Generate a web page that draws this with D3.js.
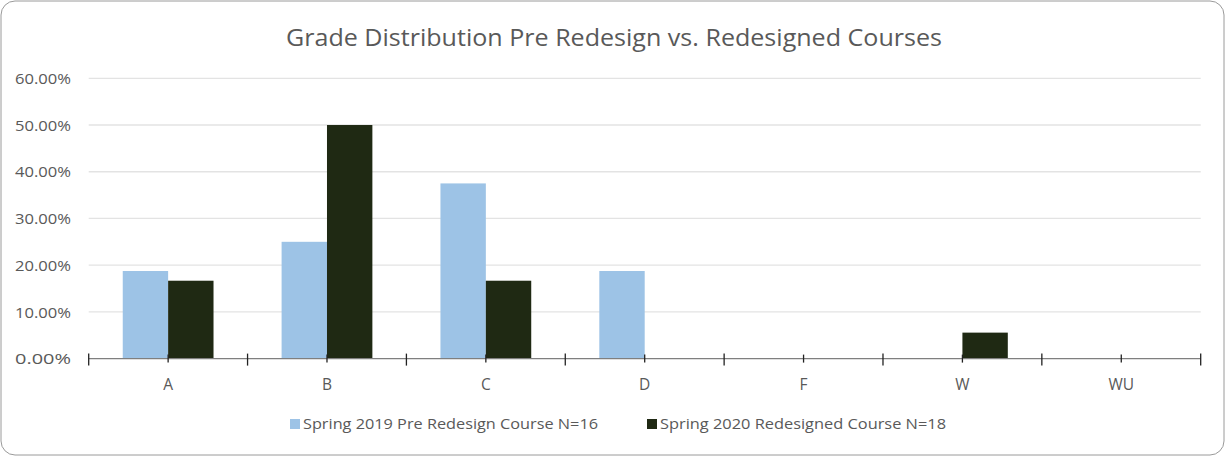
<!DOCTYPE html>
<html>
<head>
<meta charset="utf-8">
<script src="https://cdn.jsdelivr.net/npm/d3@7"></script>
<style>
  body { margin: 0; background: #fff; }
  text { font-family: "Open Sans", "Noto Sans", sans-serif; fill: #595959; }
</style>
</head>
<body>
<svg id="chart" width="1225" height="456"></svg>
<script>
const grades = ["A", "B", "C", "D", "F", "W", "WU"];
const spring2019 = [0.1875, 0.25, 0.375, 0.1875, 0, 0, 0];
const spring2020 = [0.1667, 0.5, 0.1667, 0, 0, 0.0556, 0];
const seriesNames = ["Spring 2019 Pre Redesign Course N=16", "Spring 2020 Redesigned Course N=18"];
const seriesColors = ["#9DC3E6", "#1F2913"];
const yTicks = [0, 0.1, 0.2, 0.3, 0.4, 0.5, 0.6];

const svg = d3.select("#chart");
const W = 1225, H = 456;

// chart border
svg.append("rect")
  .attr("x", 1).attr("y", 1)
  .attr("width", W - 2).attr("height", H - 2)
  .attr("rx", 14)
  .attr("fill", "#fff")
  .attr("stroke", "#9a9a9a");

const plot = { left: 88.7, right: 1200.7, top: 78.3, bottom: 358.6 };

const x = d3.scaleBand().domain(grades).range([plot.left, plot.right]);
const y = d3.scaleLinear().domain([0, 0.6]).range([plot.bottom, plot.top]);
const barW = x.bandwidth() / 3.5;

// gridlines
svg.append("g").selectAll("line")
  .data(yTicks.filter(d => d > 0))
  .join("line")
  .attr("x1", plot.left).attr("x2", plot.right)
  .attr("y1", d => y(d)).attr("y2", d => y(d))
  .attr("stroke", "#e3e3e3").attr("stroke-width", 1.3);

// y labels
svg.append("g").selectAll("text")
  .data(yTicks)
  .join("text")
  .attr("x", 71)
  .attr("y", d => y(d) + 5.7)
  .attr("text-anchor", "end")
  .attr("font-size", 14)
  .attr("textLength", 56)
  .attr("lengthAdjust", "spacingAndGlyphs")
  .text(d => d3.format(".2%")(d));

// bars
const series = [spring2019, spring2020];
series.forEach((vals, s) => {
  svg.append("g").selectAll("rect")
    .data(vals)
    .join("rect")
    .attr("x", (d, i) => x(grades[i]) + x.bandwidth() / 2 - barW + s * barW)
    .attr("y", d => y(d))
    .attr("width", barW)
    .attr("height", d => plot.bottom - y(d))
    .attr("fill", seriesColors[s]);
});

// x axis line + ticks
const axis = svg.append("g").attr("stroke", "#7f7f7f").attr("stroke-width", 1.3);
axis.append("line")
  .attr("x1", plot.left).attr("x2", plot.right)
  .attr("y1", plot.bottom).attr("y2", plot.bottom);
const bounds = grades.map(g => x(g)).concat([plot.right]);
axis.selectAll(".bt").data(bounds).join("line")
  .attr("x1", d => d).attr("x2", d => d)
  .attr("y1", plot.bottom - 5).attr("y2", plot.bottom + 7)
  .attr("stroke", "#222");
axis.selectAll(".ct").data(grades).join("line")
  .attr("x1", d => x(d) + x.bandwidth() / 2).attr("x2", d => x(d) + x.bandwidth() / 2)
  .attr("y1", plot.bottom - 4).attr("y2", plot.bottom + 4)
  .attr("stroke", "#222");

// category labels
svg.append("g").selectAll("text")
  .data(grades)
  .join("text")
  .attr("x", d => x(d) + x.bandwidth() / 2)
  .attr("y", 390)
  .attr("text-anchor", "middle")
  .attr("font-size", 15.5)
  .text(d => d);

// title
svg.append("text")
  .attr("x", 614).attr("y", 46)
  .attr("text-anchor", "middle")
  .attr("font-size", 24)
  .attr("textLength", 656)
  .attr("lengthAdjust", "spacingAndGlyphs")
  .text("Grade Distribution Pre Redesign vs. Redesigned Courses");

// legend
const legendX = [290, 647];
const legendW = [295, 286];
seriesNames.forEach((name, s) => {
  svg.append("rect")
    .attr("x", legendX[s]).attr("y", 419)
    .attr("width", 10).attr("height", 10)
    .attr("fill", seriesColors[s]);
  svg.append("text")
    .attr("x", legendX[s] + 13).attr("y", 429)
    .attr("font-size", 14.5)
    .attr("textLength", legendW[s])
    .attr("lengthAdjust", "spacingAndGlyphs")
    .text(name);
});
</script>
</body>
</html>
